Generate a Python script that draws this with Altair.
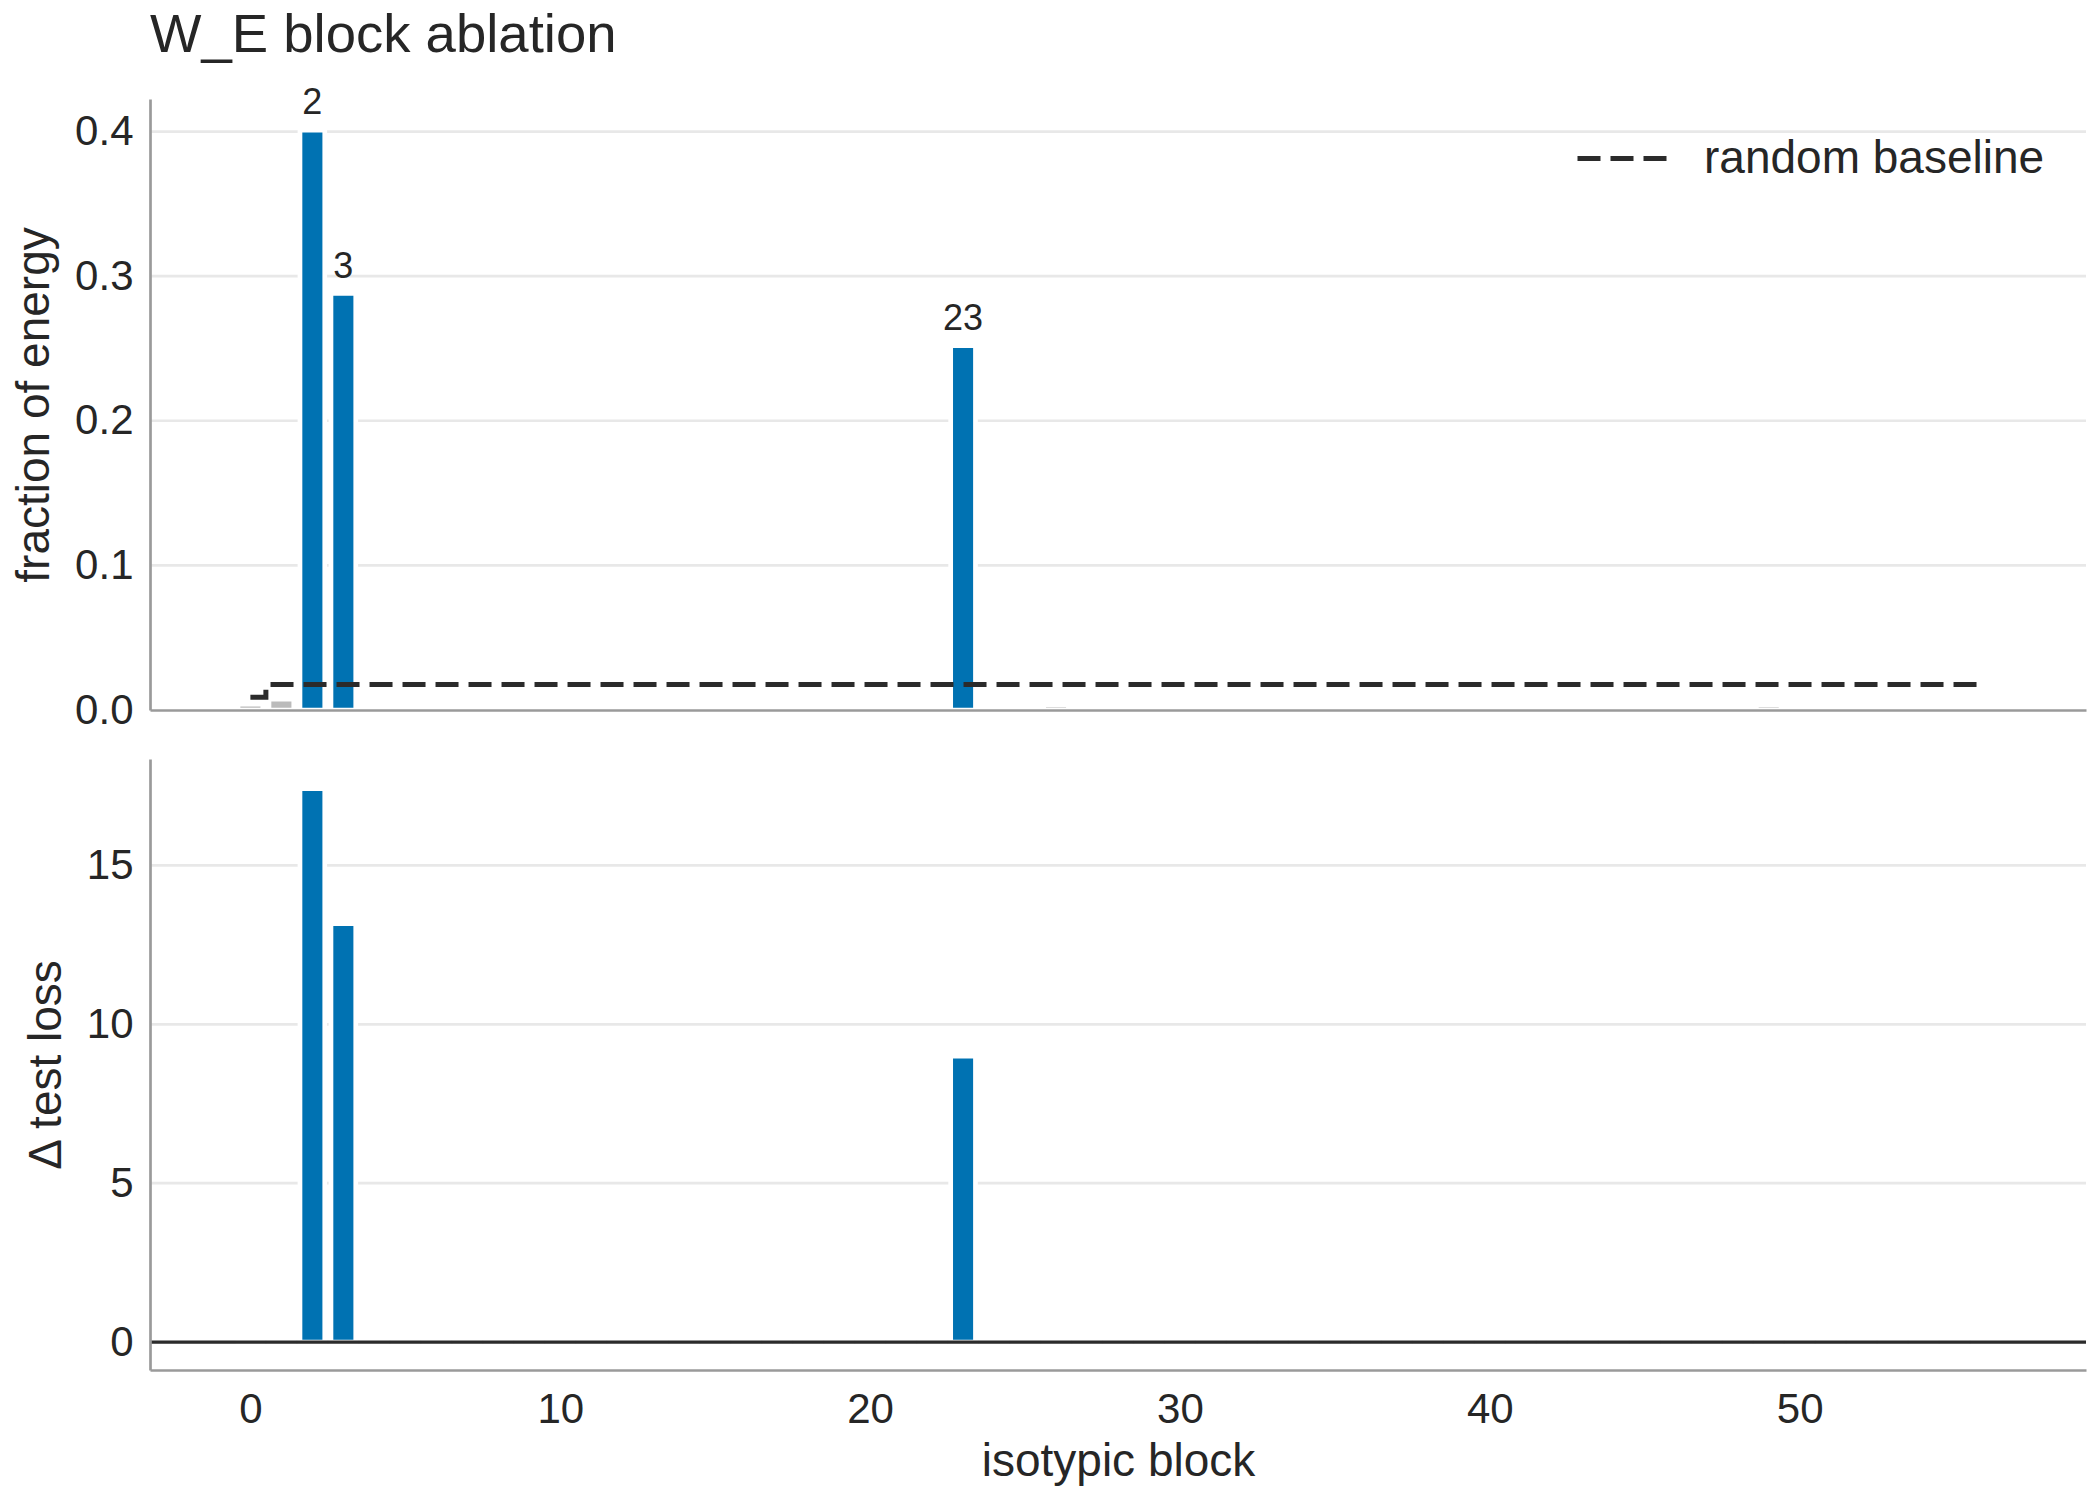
import altair as alt
import pandas as pd

# ---------------- data ----------------
blocks = list(range(57))
highlight = [2, 3, 23]

energy = [
    0.004, 0.0075, 0.401, 0.288, 0.0008, 0.0008, 0.0008, 0.0008, 0.0008, 0.0008,
    0.0008, 0.0008, 0.0008, 0.0008, 0.0008, 0.0008, 0.0008, 0.0008, 0.0008, 0.0008,
    0.0008, 0.0008, 0.0008, 0.252, 0.0008, 0.0008, 0.0035, 0.0008, 0.0008, 0.0008,
    0.0008, 0.0008, 0.0008, 0.0008, 0.0008, 0.0008, 0.0008, 0.0008, 0.0008, 0.0008,
    0.0008, 0.0008, 0.0008, 0.0008, 0.0008, 0.0008, 0.0008, 0.0008, 0.0008, 0.0035,
    0.0008, 0.0008, 0.0008, 0.0008, 0.0008, 0.0008, 0.0008,
]

delta_loss = [
    0.02, 0.02, 17.42, 13.17, 0.02, 0.02, 0.02, 0.02, 0.02, 0.02,
    0.02, 0.02, 0.02, 0.02, 0.02, 0.02, 0.02, 0.02, 0.02, 0.02,
    0.02, 0.02, 0.02, 9.0, 0.02, 0.02, 0.02, 0.02, 0.02, 0.02,
    0.02, 0.02, 0.02, 0.02, 0.02, 0.02, 0.02, 0.02, 0.02, 0.02,
    0.02, 0.02, 0.02, 0.02, 0.02, 0.02, 0.02, 0.02, 0.02, 0.02,
    0.02, 0.02, 0.02, 0.02, 0.02, 0.02, 0.02,
]

baseline_x = [0, 1, 56]
baseline_y = [0.0088, 0.0177, 0.0177]

top_ticks = [0.0, 0.1, 0.2, 0.3, 0.4]
bottom_ticks = [0, 5, 10, 15]
x_ticks = [0, 10, 20, 30, 40, 50]

# ---------------- styling ----------------
FONT = "Liberation Sans"
TXT = "#262626"
BLUE = "#0072B2"
GRAY = "#BBBBBB"
AXIS_C = "#9a9a9a"
GRID_C = "#e8e8e8"
W, H = 1936, 611
XDOM = [-3.24, 59.24]

df = pd.DataFrame({
    "block": blocks,
    "energy": energy,
    "loss": delta_loss,
    "kind": ["hi" if b in highlight else "lo" for b in blocks],
})
lab_df = df[df["kind"] == "hi"].copy()
lab_df["label"] = lab_df["block"].astype(str)
base_df = pd.DataFrame({"block": baseline_x, "value": baseline_y,
                        "series": ["random baseline"] * len(baseline_x)})
top_grid_df = pd.DataFrame({"v": top_ticks[1:]})
bot_grid_df = pd.DataFrame({"v": bottom_ticks})
zero_df = pd.DataFrame({"v": [0]})

xscale = alt.Scale(domain=XDOM, nice=False, zero=False)
yscale_top = alt.Scale(domain=[0, 0.4225], nice=False, zero=False)
yscale_bot = alt.Scale(domain=[-0.88, 18.35], nice=False, zero=False)

color_enc = alt.Color("kind:N", scale=alt.Scale(domain=["hi", "lo"], range=[BLUE, GRAY]), legend=None)

x_axis_top = alt.Axis(labels=False, ticks=False, title=None, grid=False,
                      domainColor=AXIS_C, domainWidth=2.7, zindex=1)
x_axis_bot = alt.Axis(values=x_ticks, ticks=False, grid=False, title="isotypic block",
                      labelFontSize=42, labelPadding=19, labelColor=TXT,
                      titleFontSize=46, titleFontWeight="normal", titleColor=TXT, titlePadding=9,
                      domainColor=AXIS_C, domainWidth=2.7, zindex=1)
y_axis_top = alt.Axis(values=top_ticks, format=".1f", ticks=False, grid=False,
                      title="fraction of energy", labelFontSize=42, labelPadding=17, labelColor=TXT,
                      titleFontSize=46, titleFontWeight="normal", titleColor=TXT, titlePadding=16,
                      domainColor=AXIS_C, domainWidth=2.7, zindex=1)
y_axis_bot = alt.Axis(values=bottom_ticks, ticks=False, grid=False,
                      title="Δ test loss", labelFontSize=42, labelPadding=17, labelColor=TXT,
                      titleFontSize=46, titleFontWeight="normal", titleColor=TXT, titlePadding=16,
                      domainColor=AXIS_C, domainWidth=2.7, zindex=1)

# ---------------- top panel ----------------
grid_top = alt.Chart(top_grid_df).mark_rule(color=GRID_C, strokeWidth=2.7).encode(
    y=alt.Y("v:Q", scale=yscale_top, axis=y_axis_top)
)
bars_top = alt.Chart(df).transform_calculate(
    lo="datum.block - 0.4", hi="datum.block + 0.4"
).mark_bar(stroke="white", strokeWidth=4.7).encode(
    x=alt.X("lo:Q", scale=xscale, axis=x_axis_top),
    x2="hi:Q",
    y=alt.Y("energy:Q", scale=yscale_top, axis=y_axis_top),
    y2=alt.datum(0),
    color=color_enc,
)
line_top = alt.Chart(base_df).mark_line(interpolate="step", strokeWidth=5, color="#2b2b2b").encode(
    x=alt.X("block:Q", scale=xscale, axis=x_axis_top),
    y=alt.Y("value:Q", scale=yscale_top, axis=y_axis_top),
    strokeDash=alt.StrokeDash(
        "series:N",
        scale=alt.Scale(domain=["random baseline"], range=[[23, 10]]),
        legend=alt.Legend(title=None, orient="none", legendX=1425, legendY=12,
                          symbolType="stroke", symbolSize=8100, symbolStrokeWidth=5,
                          symbolStrokeColor="#2b2b2b", labelFontSize=46, labelColor=TXT,
                          labelOffset=34, labelLimit=0, padding=0, symbolOffset=0),
    ),
)
text_top = alt.Chart(lab_df).mark_text(
    fontSize=36, color=TXT, baseline="alphabetic", dy=-16
).encode(
    x=alt.X("block:Q", scale=xscale, axis=x_axis_top),
    y=alt.Y("energy:Q", scale=yscale_top, axis=y_axis_top),
    text="label:N",
)
top = alt.layer(grid_top, bars_top, line_top, text_top).properties(width=W, height=H)

# ---------------- bottom panel ----------------
grid_bot = alt.Chart(bot_grid_df).mark_rule(color=GRID_C, strokeWidth=2.7).encode(
    y=alt.Y("v:Q", scale=yscale_bot, axis=y_axis_bot)
)
bars_bot = alt.Chart(df).transform_calculate(
    lo="datum.block - 0.4", hi="datum.block + 0.4"
).mark_bar(stroke="white", strokeWidth=4.7).encode(
    x=alt.X("lo:Q", scale=xscale, axis=x_axis_bot),
    x2="hi:Q",
    y=alt.Y("loss:Q", scale=yscale_bot, axis=y_axis_bot),
    y2=alt.datum(0),
    color=color_enc,
)
zero_bot = alt.Chart(zero_df).mark_rule(color="#2b2b2b", strokeWidth=3.2).encode(
    y=alt.Y("v:Q", scale=yscale_bot, axis=y_axis_bot)
)
bottom = alt.layer(grid_bot, bars_bot, zero_bot).properties(width=W, height=H)

chart = alt.vconcat(top, bottom, spacing=49, bounds="flush").resolve_scale(
    y="independent", color="independent", strokeDash="independent"
).properties(
    title=alt.Title("W_E block ablation", anchor="start", fontSize=54.5, fontWeight="normal",
                    color=TXT, frame="group", offset=22),
    padding={"left": 11, "top": 7, "right": 5, "bottom": 5},
).configure(font=FONT).configure_view(stroke=None)

chart.save("out.html", embed_options={"renderer": "svg", "actions": False})
